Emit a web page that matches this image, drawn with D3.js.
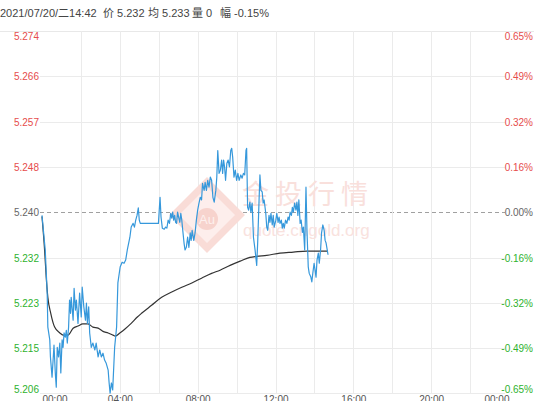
<!DOCTYPE html>
<html><head><meta charset="utf-8">
<script src="https://cdn.jsdelivr.net/npm/d3@7"></script>
<style>
body{margin:0;background:#fff;overflow:hidden;}
svg{display:block;}
text{font-family:"Liberation Sans",Arial,"Noto Sans CJK SC",sans-serif;}
</style>
</head><body>
<svg id="c" width="534" height="401"></svg>
<script>
// ---------- DATA ----------
const headerTexts = ["2021/07/20/二14:42", "价 5.232", "均 5.233", "量 0", "幅 -0.15%"];
const basePrice = 5.240;
const rangePct = 0.65;
const leftTickLabels = ["5.206","5.215","5.223","5.232","5.240","5.248","5.257","5.266","5.274"];
const rightTickLabels = ["-0.65%","-0.49%","-0.32%","-0.16%","0.00%","0.16%","0.32%","0.49%","0.65%"];
const timeTicks = [0, 240, 480, 720, 960, 1200, 1440];          // minutes
const timeTickLabels = ["00:00","04:00","08:00","12:00","16:00","20:00","00:00"];
// price series: [minute of day, price]
const priceSeries = [
[0,5.2394],[10,5.2329],[16,5.2248],[18,5.2184],[24,5.2160],[26,5.2128],[31,5.2090],[37,5.2150],[41,5.2098],[44,5.2071],
[47,5.2146],[51,5.2128],[55,5.2154],[58,5.2098],[62,5.2160],[65,5.2146],[68,5.2173],[72,5.2165],[75,5.2178],[78,5.2154],
[82,5.2184],[85,5.2235],[88,5.2210],[90,5.2240],[96,5.2197],[99,5.2257],[103,5.2216],[106,5.2235],[111,5.2191],[116,5.2248],
[121,5.2203],[124,5.2259],[129,5.2222],[134,5.2197],[137,5.2229],[140,5.2191],[144,5.2222],[147,5.2173],[152,5.2146],[157,5.2154],
[163,5.2141],[167,5.2154],[173,5.2128],[178,5.2141],[183,5.2128],[188,5.2135],[193,5.2122],[198,5.2116],[204,5.2103],[207,5.2079],
[210,5.2060],[214,5.2079],[218,5.2066],[224,5.2146],[230,5.2184],[234,5.2267],[241,5.2297],[247,5.2306],[253,5.2304],[258,5.2310],
[263,5.2329],[271,5.2353],[275,5.2372],[281,5.2379],[285,5.2372],[289,5.2385],[293,5.2394],[297,5.2408],[300,5.2385],[303,5.2379],
[359,5.2379],[364,5.2428],[367,5.2391],[371,5.2370],[377,5.2368],[381,5.2372],[385,5.2370],[389,5.2385],[393,5.2379],[397,5.2398],
[400,5.2389],[403,5.2400],[406,5.2385],[409,5.2394],[412,5.2381],[415,5.2379],[418,5.2400],[422,5.2389],[425,5.2381],[428,5.2398],
[431,5.2385],[434,5.2366],[438,5.2342],[441,5.2329],[445,5.2334],[449,5.2353],[453,5.2334],[457,5.2361],[460,5.2347],[463,5.2366],
[468,5.2347],[472,5.2361],[476,5.2385],[480,5.2404],[484,5.2417],[488,5.2428],[492,5.2423],[495,5.2454],[500,5.2441],[503,5.2456],
[507,5.2441],[511,5.2460],[515,5.2447],[519,5.2466],[523,5.2460],[527,5.2428],[531,5.2419],[536,5.2441],[539,5.2466],[542,5.2516],
[546,5.2473],[550,5.2479],[554,5.2498],[557,5.2473],[560,5.2498],[563,5.2485],[566,5.2460],[570,5.2492],[574,5.2498],[578,5.2485],
[582,5.2516],[585,5.2520],[588,5.2503],[592,5.2466],[596,5.2479],[600,5.2460],[604,5.2473],[608,5.2460],[613,5.2470],[617,5.2464],
[621,5.2473],[625,5.2470],[629,5.2516],[631,5.2520],[634,5.2409],[637,5.2404],[641,5.2419],[644,5.2400],[648,5.2417],[652,5.2353],
[657,5.2329],[662,5.2300],[665,5.2342],[669,5.2417],[672,5.2470],[675,5.2441],[679,5.2438],[682,5.2417],[685,5.2423],[690,5.2398],
[693,5.2372],[696,5.2366],[700,5.2394],[703,5.2381],[706,5.2398],[710,5.2376],[713,5.2394],[716,5.2372],[721,5.2385],[724,5.2398],
[728,5.2381],[731,5.2391],[734,5.2379],[738,5.2385],[741,5.2370],[744,5.2379],[747,5.2370],[751,5.2385],[755,5.2379],[759,5.2391],
[762,5.2385],[765,5.2400],[769,5.2394],[772,5.2409],[775,5.2400],[779,5.2417],[783,5.2404],[786,5.2419],[789,5.2394],[792,5.2423],
[796,5.2379],[799,5.2385],[803,5.2362],[806,5.2372],[810,5.2329],[814,5.2447],[817,5.2366],[821,5.2297],[824,5.2285],[829,5.2278],
[832,5.2269],[835,5.2285],[839,5.2304],[842,5.2291],[845,5.2278],[848,5.2310],[852,5.2323],[855,5.2304],[859,5.2329],[862,5.2361],
[866,5.2376],[870,5.2366],[873,5.2347],[876,5.2342],[882,5.2320]
];
// average price series: [minute of day, average]
const avgSeries = [
[0,5.2392],[8,5.2329],[13,5.2278],[18,5.2240],[27,5.2210],[39,5.2184],[55,5.2173],[65,5.2169],[80,5.2169],[96,5.2182],
[111,5.2186],[126,5.2190],[142,5.2190],[157,5.2184],[173,5.2182],[188,5.2176],[204,5.2173],[219,5.2169],[226,5.2167],[240,5.2173],
[255,5.2180],[275,5.2191],[294,5.2203],[307,5.2210],[338,5.2225],[369,5.2240],[400,5.2250],[431,5.2259],[462,5.2267],[492,5.2276],
[523,5.2285],[549,5.2291],[580,5.2300],[611,5.2308],[641,5.2315],[662,5.2317],[693,5.2319],[734,5.2323],[775,5.2325],[816,5.2327],
[857,5.2327],[882,5.2327]
];

// ---------- LAYOUT ----------
const W = 534, H = 401;
const plot = {left: 42, right: 509, top: 31, bottom: 393.4};
const svg = d3.select("#c");
const delta = basePrice * rangePct / 100;
const x = d3.scaleLinear().domain([0, 1440]).range([plot.left, plot.right]);
const y = d3.scaleLinear().domain([basePrice - delta, basePrice + delta]).range([plot.bottom, plot.top]);
const tickVals = d3.range(9).map(i => basePrice - delta + i * delta / 4);
const colorOf = i => i < 4 ? "#2eb22e" : (i > 4 ? "#e64c4c" : "#666");

// header
const headerX = [0, 103, 148, 192, 220];
svg.append("g").selectAll("text").data(headerTexts).join("text")
  .attr("x", (d, i) => headerX[i]).attr("y", 17)
  .attr("font-size", 11).attr("fill", "#444").text(d => d);

// top separator
svg.append("line").attr("x1", 0).attr("x2", W).attr("y1", plot.top + 0.5).attr("y2", plot.top + 0.5)
  .attr("stroke", "#e8e8e8");

// horizontal grid
svg.append("g").selectAll("line").data(tickVals.slice(0, 8)).join("line")
  .attr("x1", 40).attr("x2", 505)
  .attr("y1", d => Math.round(y(d)) + 0.5).attr("y2", d => Math.round(y(d)) + 0.5)
  .attr("stroke", (d, i) => i === 4 ? "#a0a0a0" : "#ebebeb")
  .attr("stroke-dasharray", (d, i) => i === 4 ? "4,3" : null);

// vertical grid
svg.append("g").selectAll("line").data(d3.range(120, 1440, 120)).join("line")
  .attr("x1", d => Math.round(x(d)) + 0.5).attr("x2", d => Math.round(x(d)) + 0.5)
  .attr("y1", plot.top).attr("y2", plot.bottom)
  .attr("stroke", "#ebebeb");

// watermark (faint)
const wm = svg.append("g");
wm.append("path")
  .attr("d", "M207,182 L240,215 L207,248 L174,215 Z")
  .attr("fill", "#fdeeec").attr("stroke", "#f9dcd7").attr("stroke-width", 7);
wm.append("circle").attr("cx", 207).attr("cy", 219).attr("r", 11).attr("fill", "#f7d3cd");
wm.append("text").attr("x", 207).attr("y", 224).attr("text-anchor", "middle")
  .attr("font-size", 13).attr("fill", "#fdf0ee").text("Au");
wm.append("text").attr("x", 242).attr("y", 204).attr("font-size", 27)
  .attr("letter-spacing", 6).attr("fill", "#f9e0dc")
  .style("font-family", "'Noto Sans CJK SC',sans-serif").text("金投行情");
wm.append("text").attr("x", 243).attr("y", 236).attr("font-size", 17)
  .attr("fill", "#f9e2de").text("quote.cngold.org");

// left axis
const la = svg.append("g").attr("transform", "translate(40,0)")
  .call(d3.axisLeft(y).tickValues(tickVals).tickFormat((d, i) => leftTickLabels[i]).tickSize(0).tickPadding(1));
la.select(".domain").remove();
la.selectAll("text").attr("font-size", 10).style("font-family", "'Liberation Sans',Arial,sans-serif")
  .attr("fill", (d, i) => colorOf(i))
  .attr("dy", (d, i) => i === 8 ? "0.85em" : (i === 0 ? "-0.1em" : "0.36em"));

// right axis
const ra = svg.append("g").attr("transform", "translate(533,0)")
  .call(d3.axisRight(y).tickValues(tickVals).tickFormat((d, i) => rightTickLabels[i]).tickSize(0).tickPadding(0));
ra.select(".domain").remove();
ra.selectAll("text").attr("font-size", 10).attr("text-anchor", "end").attr("x", 0)
  .style("font-family", "'Liberation Sans',Arial,sans-serif")
  .attr("fill", (d, i) => colorOf(i))
  .attr("dy", (d, i) => i === 8 ? "0.85em" : (i === 0 ? "-0.1em" : "0.36em"));

// bottom axis
const ba = svg.append("g").attr("transform", `translate(0,${plot.bottom})`)
  .call(d3.axisBottom(x).tickValues(timeTicks).tickFormat((d, i) => timeTickLabels[i]).tickSize(0).tickPadding(3));
ba.select(".domain").remove();
ba.selectAll("text").attr("font-size", 10).attr("fill", "#555")
  .style("font-family", "'Liberation Sans',Arial,sans-serif")
  .attr("text-anchor", (d, i) => i === 0 ? "start" : (i === timeTicks.length - 1 ? "end" : "middle"));

// lines
svg.append("path").datum(avgSeries)
  .attr("d", d3.line().x(d => x(d[0])).y(d => y(d[1])).curve(d3.curveMonotoneX))
  .attr("fill", "none").attr("stroke", "#333").attr("stroke-width", 1.2);
svg.append("path").datum(priceSeries)
  .attr("d", d3.line().x(d => x(d[0])).y(d => y(d[1])))
  .attr("fill", "none").attr("stroke", "#3698db").attr("stroke-width", 1.2)
  .attr("stroke-linejoin", "round");
</script>
</body></html>
